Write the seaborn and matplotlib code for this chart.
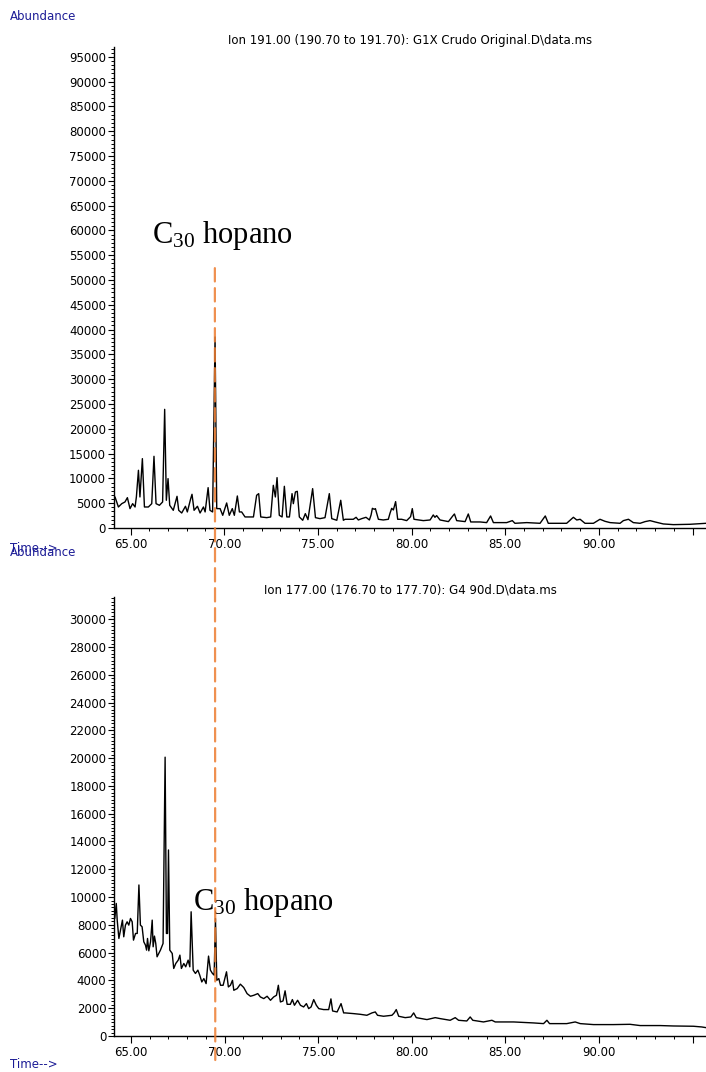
import numpy as np
import pandas as pd
import seaborn as sns
import matplotlib.pyplot as plt
from matplotlib.patches import ConnectionPatch
from matplotlib.ticker import MultipleLocator, AutoMinorLocator

# Ion 191 trace (G1X Crudo Original) - retention time (min) / abundance
t191 = [64.08, 64.17, 64.35, 64.53, 64.70, 64.83, 64.97, 65.11, 65.24, 65.31,
        65.42, 65.50, 65.63, 65.74, 65.95, 66.13, 66.25, 66.36, 66.54, 66.71,
        66.82, 66.91, 67.00, 67.09, 67.28, 67.48, 67.57, 67.73, 67.93, 68.03,
        68.21, 68.28, 68.39, 68.57, 68.71, 68.89, 68.98, 69.14, 69.24, 69.38,
        69.51, 69.60, 69.78, 69.92, 70.13, 70.27, 70.43, 70.54, 70.70, 70.81,
        70.93, 71.11, 71.56, 71.73, 71.84, 71.95, 72.27, 72.48, 72.62, 72.73,
        72.82, 72.94, 73.09, 73.21, 73.34, 73.48, 73.62, 73.69, 73.80, 73.90,
        74.01, 74.19, 74.33, 74.47, 74.72, 74.87, 75.11, 75.38, 75.61, 75.74,
        76.01, 76.22, 76.36, 76.45, 76.89, 77.04, 77.16, 77.34, 77.57, 77.75,
        77.84, 77.91, 78.01, 78.07, 78.14, 78.23, 78.49, 78.76, 78.85, 78.94,
        79.03, 79.15, 79.26, 79.47, 79.74, 79.95, 80.04, 80.13, 80.63, 80.99,
        81.16, 81.25, 81.34, 81.52, 81.97, 82.20, 82.29, 82.41, 82.86, 83.03,
        83.16, 83.66, 84.01, 84.22, 84.37, 85.08, 85.38, 85.52, 86.15, 86.86,
        87.14, 87.30, 88.28, 88.64, 88.82, 89.00, 89.26, 89.71, 90.06, 90.33,
        90.60, 91.13, 91.31, 91.58, 91.84, 92.20, 92.47, 92.73, 93.00, 93.44,
        93.98, 94.87, 95.72]
a191 = [4900, 6250, 4230, 4900, 5240, 6110, 3900, 4900, 4230, 6250,
        11630, 6250, 13980, 4230, 4230, 4900, 14450, 4900, 4570, 5240,
        23920, 5580, 9950, 4570, 3560, 6380, 3560, 3020, 4370, 3230,
        5910, 6790, 3560, 4370, 3020, 4230, 3230, 8130, 3560, 3230,
        38510, 3900, 3900, 2550, 5040, 2550, 3900, 2550, 6450, 3230,
        3230, 2220, 2220, 6590, 6920, 2220, 2080, 2220, 8600, 6250,
        10150, 2550, 2220, 8400, 2220, 2220, 6920, 4900, 7260, 7390,
        2220, 1550, 2890, 1680, 7930, 2080, 1880, 2080, 6920, 1880,
        1550, 5580, 1550, 1750, 1750, 2150, 1610, 1880, 2150, 1610,
        2620, 3960, 3760, 3900, 2960, 1750, 1610, 1750, 2960, 3960,
        3630, 5310, 1750, 1750, 1480, 2280, 3900, 1750, 1480, 1610,
        2620, 2150, 2490, 1610, 1280, 2420, 2820, 1480, 1280, 2820,
        1210, 1210, 1080, 2420, 1080, 1080, 1480, 940, 1080, 940,
        2420, 940, 940, 2150, 1610, 1750, 940, 940, 1750, 1340,
        1080, 940, 1480, 1750, 1080, 940, 1280, 1480, 1210, 810,
        670, 740, 940]

# Ion 177 trace (G4 90d)
t177 = [64.13, 64.21, 64.26, 64.35, 64.47, 64.54, 64.61, 64.70, 64.79, 64.88,
        64.97, 65.06, 65.13, 65.24, 65.33, 65.42, 65.50, 65.59, 65.68, 65.77,
        65.83, 65.88, 65.95, 66.04, 66.13, 66.18, 66.25, 66.32, 66.39, 66.57,
        66.71, 66.82, 66.89, 66.95, 67.00, 67.07, 67.20, 67.28, 67.39, 67.52,
        67.61, 67.69, 67.82, 67.92, 68.05, 68.14, 68.21, 68.32, 68.44, 68.57,
        68.67, 68.78, 68.89, 69.01, 69.14, 69.24, 69.35, 69.44, 69.51, 69.58,
        69.69, 69.78, 69.92, 70.10, 70.20, 70.31, 70.42, 70.49, 70.67, 70.84,
        71.02, 71.20, 71.38, 71.56, 71.77, 71.91, 72.09, 72.27, 72.45, 72.62,
        72.77, 72.87, 72.98, 73.12, 73.23, 73.34, 73.51, 73.62, 73.73, 73.90,
        74.05, 74.22, 74.37, 74.49, 74.62, 74.76, 74.90, 75.03, 75.29, 75.56,
        75.68, 75.77, 76.01, 76.22, 76.36, 76.45, 76.89, 77.25, 77.60, 77.87,
        78.05, 78.17, 78.49, 78.94, 79.06, 79.17, 79.30, 79.65, 79.95, 80.10,
        80.24, 80.81, 81.25, 81.52, 82.05, 82.32, 82.50, 82.94, 83.12, 83.26,
        83.83, 84.28, 84.46, 85.44, 86.50, 87.04, 87.22, 87.36, 88.28, 88.73,
        89.00, 89.71, 90.77, 91.66, 92.20, 93.27, 93.98, 95.05, 95.49, 95.72]
a177 = [8460, 9540, 8340, 7020, 7860, 8340, 7140, 7980, 8220, 7980,
        8460, 8220, 6900, 7380, 7380, 10870, 7980, 7860, 6780, 6540,
        6180, 7020, 6130, 6780, 8340, 6420, 7190, 6660, 5700, 6180,
        6660, 20070, 7380, 7380, 13390, 6180, 5940, 4860, 5220, 5460,
        5820, 4860, 5220, 4980, 5460, 4980, 8940, 4740, 4500, 4740,
        4380, 3890, 4130, 3770, 5750, 4740, 4500, 4380, 8460, 4010,
        4130, 3650, 3650, 4620, 3530, 3650, 4010, 3290, 3410, 3730,
        3490, 3050, 2860, 2930, 3050, 2810, 2690, 2860, 2570, 2810,
        2930, 3650, 2450, 2520, 3250, 2280, 2280, 2620, 2210, 2570,
        2210, 2090, 2330, 1970, 2090, 2620, 2210, 1970, 1900, 1900,
        2670, 1800, 1730, 2330, 1660, 1660, 1610, 1560, 1490, 1660,
        1730, 1490, 1420, 1490, 1660, 1900, 1420, 1320, 1370, 1660,
        1320, 1180, 1320, 1250, 1130, 1320, 1130, 1080, 1370, 1130,
        1010, 1130, 1010, 1010, 940, 890, 1130, 890, 890, 1010,
        890, 820, 820, 840, 750, 750, 720, 700, 650, 600]

title191 = 'Ion 191.00 (190.70 to 191.70): G1X Crudo Original.D\\data.ms'
title177 = 'Ion 177.00 (176.70 to 177.70): G4 90d.D\\data.ms'
xticks = [65, 70, 75, 80, 85, 90, 95]
xticklabels = ['65.00', '70.00', '75.00', '80.00', '85.00', '90.00', '']
hopane_rt = 69.5

sns.set_style('ticks')
plt.rcParams['font.family'] = ['DejaVu Sans']
plt.rcParams['text.color'] = 'black'
plt.rcParams['xtick.color'] = 'black'
plt.rcParams['ytick.color'] = 'black'
plt.rcParams['axes.labelcolor'] = 'black'
plt.rcParams['mathtext.fontset'] = 'custom'
plt.rcParams['mathtext.rm'] = 'Liberation Serif'
plt.rcParams['mathtext.it'] = 'Liberation Serif:italic'

navy = '#1c1c96'
orange = '#ED7D31'

fig = plt.figure(figsize=(7.06, 10.72), dpi=100)
ax1 = fig.add_axes([0.1608, 0.5075, 0.8392, 0.4487])
ax2 = fig.add_axes([0.1615, 0.0336, 0.8385, 0.4095])

df1 = pd.DataFrame({'time': t191, 'abundance': a191})
df2 = pd.DataFrame({'time': t177, 'abundance': a177})
sns.lineplot(data=df1, x='time', y='abundance', ax=ax1, color='black',
             lw=1.0, estimator=None, sort=False)
sns.lineplot(data=df2, x='time', y='abundance', ax=ax2, color='black',
             lw=1.0, estimator=None, sort=False)

for ax, top, minor, step, title in [(ax1, 97000, 6, 5000, title191),
                                    (ax2, 31600, 8, 2000, title177)]:
    ax.set_xlim(64.09, 95.72)
    ax.set_ylim(0, top)
    ax.yaxis.set_major_locator(MultipleLocator(step))
    ax.yaxis.set_minor_locator(AutoMinorLocator(minor))
    ax.set_xticks(xticks)
    ax.set_xticklabels(xticklabels)
    ax.xaxis.set_minor_locator(MultipleLocator(1))
    ax.tick_params(axis='both', which='major', labelsize=8.5, length=4,
                   width=0.8, pad=1.5, colors='black')
    ax.tick_params(axis='both', which='minor', length=2.5, width=0.7,
                   colors='black')
    ax.tick_params(axis='x', which='major', length=5, pad=2)
    for s in ['top', 'right']:
        ax.spines[s].set_visible(False)
    for s in ['left', 'bottom']:
        ax.spines[s].set_linewidth(1.0)
        ax.spines[s].set_color('black')
    ax.set_xlabel('')
    ax.set_ylabel('')
    ax.set_title(title, fontsize=8.5, pad=2, color='black')

ax1.text(66.14, 57460, r'C$_{30}$ hopano', family='Liberation Serif',
         fontsize=22, ha='left', va='baseline', color='black')
ax2.text(68.33, 9060, r'C$_{30}$ hopano', family='Liberation Serif',
         fontsize=22, ha='left', va='baseline', color='black')

con = ConnectionPatch(xyA=(hopane_rt, 52400), coordsA=ax1.transData,
                      xyB=(hopane_rt, -1730), coordsB=ax2.transData,
                      color=orange, lw=1.6, linestyle=(0, (6, 3)),
                      alpha=0.85, zorder=10)
fig.add_artist(con)

# instrument-style corner labels (the overlap in the middle is as in the source)
fig.text(10 / 706, 1 - 16 / 1072, 'Abundance', color=navy, fontsize=8.5,
         va='center', ha='left')
fig.text(10 / 706, 1 - 549 / 1072, 'Time-->', color=navy, fontsize=8.5,
         va='center', ha='left')
fig.text(10 / 706, 1 - 552 / 1072, 'Abundance', color=navy, fontsize=8.5,
         va='center', ha='left')
fig.text(10 / 706, 1 - 1064 / 1072, 'Time-->', color=navy, fontsize=8.5,
         va='center', ha='left')

fig.savefig('out.png', dpi=100)
